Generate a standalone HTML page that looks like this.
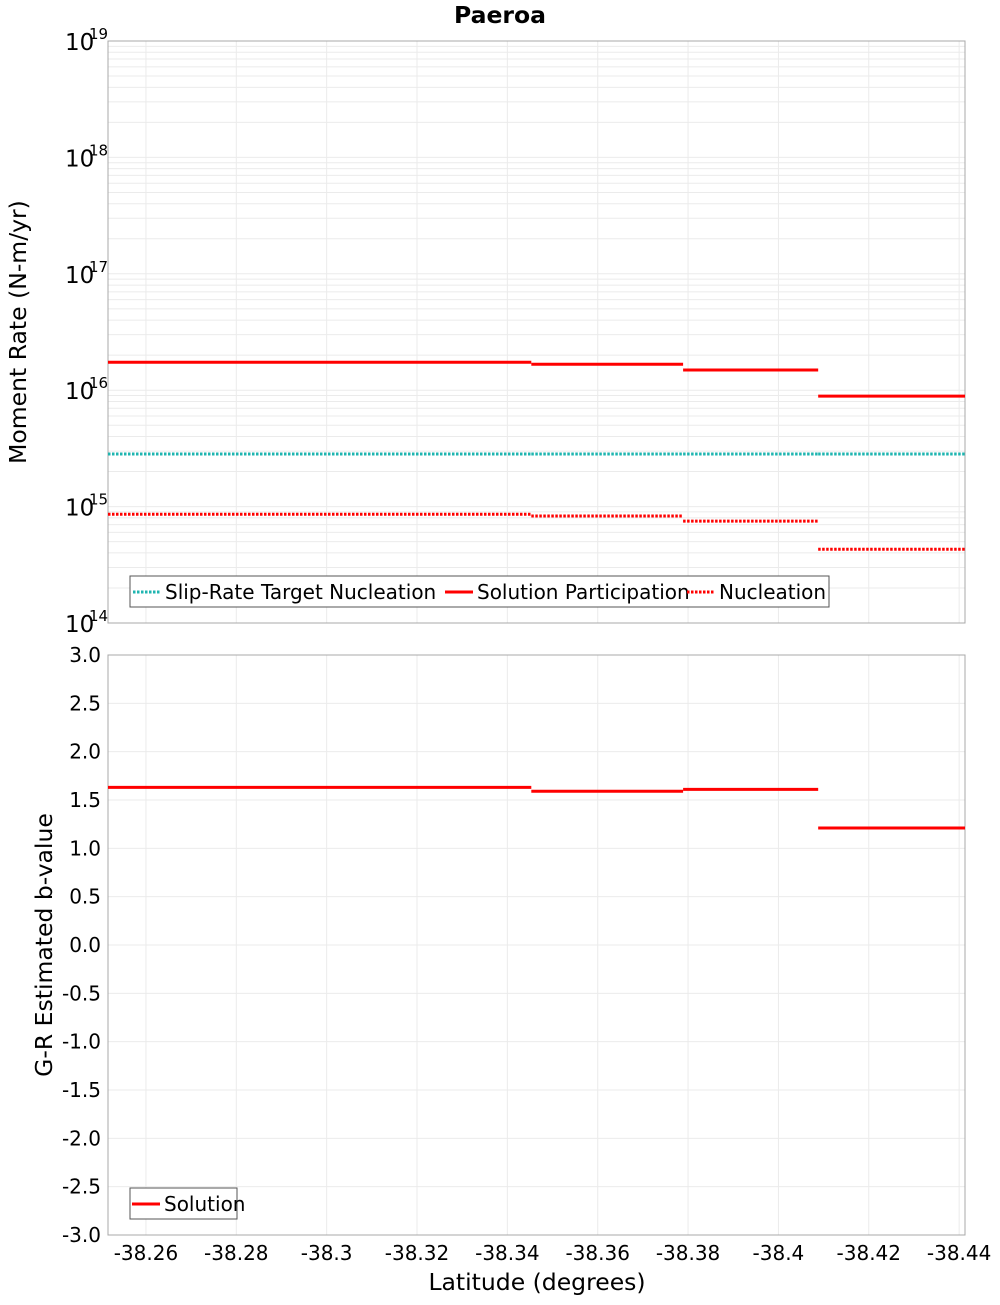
<!DOCTYPE html>
<html><head><meta charset="utf-8"><style>
body{margin:0;background:#fff;font-family:"Liberation Sans","DejaVu Sans",sans-serif}
svg text{font-family:"DejaVu Sans","Liberation Sans",sans-serif}
</style></head><body>
<svg id="c" width="1000" height="1300" viewBox="0 0 1000 1300" xmlns="http://www.w3.org/2000/svg"></svg>
<script>
const xTicks=[-38.26,-38.28,-38.3,-38.32,-38.34,-38.36,-38.38,-38.4,-38.42,-38.44];
const xTickLabels=["-38.26","-38.28","-38.3","-38.32","-38.34","-38.36","-38.38","-38.4","-38.42","-38.44"];
const segEdges=[-38.2516,-38.3453,-38.3789,-38.4088,-38.4413];
const participation=[1.74e16,1.67e16,1.49e16,8.9e15];
const nucleation=[8.6e14,8.3e14,7.5e14,4.3e14];
const targetNucleation=[2.83e15,2.83e15,2.83e15,2.83e15];
const bValues=[1.63,1.59,1.61,1.21];
const bTicks=[3.0,2.5,2.0,1.5,1.0,0.5,0.0,-0.5,-1.0,-1.5,-2.0,-2.5,-3.0];
const logDecades=[14,15,16,17,18,19];

const svg=document.getElementById('c');
const NS='http://www.w3.org/2000/svg';
function mk(t,a,p){const e=document.createElementNS(NS,t);for(const k in a)e.setAttribute(k,a[k]);(p||svg).appendChild(e);return e;}
const L=108,R=965,T1=41,B1=623,T2=655,B2=1235;
const xd0=-38.2516,xd1=-38.4413;
const X=v=>L+(v-xd0)/(xd1-xd0)*(R-L);
const Y1=v=>B1-(Math.log10(v)-14)/5*(B1-T1);
const Y2=v=>B2-(v+3)/6*(B2-T2);

let t=mk('text',{x:500,y:23,'text-anchor':'middle','font-size':23.5,'font-weight':'bold'});t.textContent='Paeroa';



const g1=mk('g',{});


for(let d=14;d<19;d++)for(let m=1;m<10;m++){const y=Y1(m*Math.pow(10,d));mk('line',{x1:L,x2:R,y1:y,y2:y,stroke:'#ebebeb','stroke-width':1},g1);}
xTicks.forEach(v=>{const x=X(v);mk('line',{x1:x,x2:x,y1:T1,y2:B1,stroke:'#ebebeb'},g1);mk('line',{x1:x,x2:x,y1:T2,y2:B2,stroke:'#ebebeb'},g1);});
bTicks.forEach(v=>{const y=Y2(v);mk('line',{x1:L,x2:R,y1:y,y2:y,stroke:'#ebebeb'},g1);});

let f=mk('rect',{x:L,y:T1,width:R-L,height:B1-T1,fill:'none',stroke:'#a8a8a8'});


f=mk('rect',{x:L,y:T2,width:R-L,height:B2-T2,fill:'none',stroke:'#a8a8a8'});



logDecades.forEach(d=>{const y=Y1(Math.pow(10,d));
 const tt=mk('text',{x:65,y:y+9,'font-size':23});tt.textContent='10';
 
 
 const s=mk('text',{x:89,y:y-2,'font-size':15});s.textContent=String(d);
 
 
});
t=mk('text',{x:0,y:0,'font-size':23.5,'text-anchor':'middle',transform:'translate(26,332) rotate(-90)'});t.textContent='Moment Rate (N-m/yr)';



bTicks.forEach(v=>{const tt=mk('text',{x:101,y:Y2(v)+7,'font-size':20,'text-anchor':'end'});tt.textContent=v.toFixed(1);
 
 });
t=mk('text',{x:0,y:0,'font-size':23.5,'text-anchor':'middle',transform:'translate(52,945) rotate(-90)'});t.textContent='G-R Estimated b-value';



xTicks.forEach((v,i)=>{const tt=mk('text',{x:X(v),y:1260,'font-size':20,'text-anchor':'middle'});tt.textContent=xTickLabels[i];
 
 });
t=mk('text',{x:537,y:1290,'font-size':23.5,'text-anchor':'middle'});t.textContent='Latitude (degrees)';



function steps(vals,Yf,name,stroke,dash){
 const g=mk('g',{});
 
 
 vals.forEach((v,i)=>{const y=Yf(v);const a={x1:X(segEdges[i]),x2:X(segEdges[i+1]),y1:y,y2:y,stroke:stroke,'stroke-width':3};if(dash)a['stroke-dasharray']=dash;mk('line',a,g);});
}
steps(targetNucleation,Y1,'target-nucleation-series','#1fb5b0','2.5 1.5');
steps(participation,Y1,'participation-series','#ff0000');
steps(nucleation,Y1,'nucleation-series','#ff0000','2.5 1.5');
steps(bValues,Y2,'b-value-series','#ff0000');

function legend(x,y,w,items,name){
 const g=mk('g',{});
 
 
 mk('rect',{x:x,y:y,width:w,height:31,fill:'#fff',stroke:'#555'},g);
 items.forEach(it=>{const a={x1:it[0],x2:it[0]+28,y1:y+16,y2:y+16,stroke:it[2],'stroke-width':3};if(it[3])a['stroke-dasharray']=it[3];mk('line',a,g);
  const tt=mk('text',{x:it[0]+32,y:y+23,'font-size':20},g);tt.textContent=it[1];
  
  });
}
legend(130,576,699,[[133,'Slip-Rate Target Nucleation','#1fb5b0','2.5 1.5'],[445,'Solution Participation','#ff0000'],[687,'Nucleation','#ff0000','2.5 1.5']],'top-legend');
legend(130,1188,107,[[132,'Solution','#ff0000']],'bottom-legend');
</script>
</body></html>
